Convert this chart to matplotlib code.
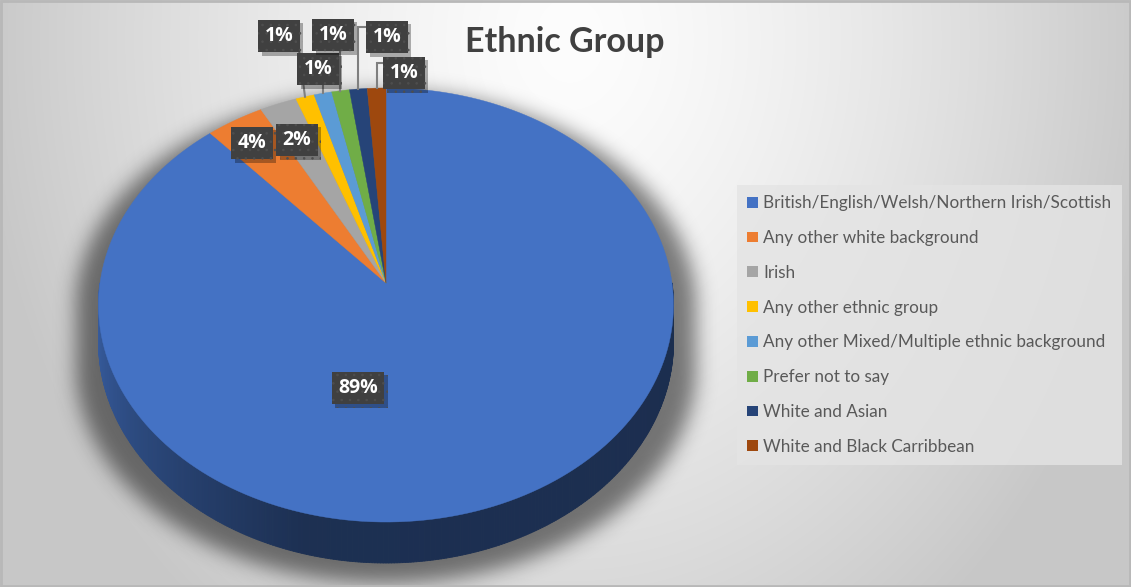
import numpy as np
import matplotlib
matplotlib.use('Agg')
from matplotlib import pyplot as plt
from matplotlib import patheffects as pe
from matplotlib.patches import Polygon, Patch, Rectangle
from matplotlib.collections import PolyCollection
from matplotlib.colors import to_rgb

# data
categories = [
    'British/English/Welsh/Northern Irish/Scottish',
    'Any other white background',
    'Irish',
    'Any other ethnic group',
    'Any other Mixed/Multiple ethnic background',
    'Prefer not to say',
    'White and Asian',
    'White and Black Carribbean',
]
shares = [88.5, 3.6, 2.3, 1.15, 1.1, 1.1, 1.1, 1.15]
colors = ['#4472c4', '#ed7d31', '#a5a5a5', '#ffc000',
          '#5b9bd5', '#70ad47', '#264478', '#9e480e']

# label layout (pixel positions of the data label boxes)
label_pos = [(358, 387), (252, 142), (297, 139), (279, 35),
             (318, 68), (333, 34), (387, 36), (404, 72)]
# leader line style per label
leader = [None, None, None, 'direct', 'down', 'down', 'elbow', 'elbow']

W, H = 1131, 587
CX, CY = 386, 283             # pie centre on screen
A, B, K = 286, 214.8, 0.1014  # radii and perspective factor
DEPTH = 36.8


def project(u, v, z=0.0):
    s = 1.0 / (1.0 + K * v)
    return CX + A * u * s, CY - B * v * s + z * s


def inside(xx, yy, ax_scale=1.0):
    dy = CY - yy
    v = dy / (B - K * dy)
    u = (xx - CX) * (1 + K * v) / (A * ax_scale)
    return u ** 2 + v ** 2 <= 1


def blur(img, sigma):
    r = int(3 * sigma)
    t = np.arange(-r, r + 1)
    k = np.exp(-t ** 2 / (2 * sigma ** 2))
    k /= k.sum()
    img = np.apply_along_axis(lambda m: np.convolve(m, k, mode='same'), 0, img)
    img = np.apply_along_axis(lambda m: np.convolve(m, k, mode='same'), 1, img)
    return img


fig = plt.figure(figsize=(W / 100, H / 100), dpi=100)
ax = fig.add_axes([0, 0, 1, 1])
ax.set_xlim(0, W)
ax.set_ylim(H, 0)
ax.axis('off')

# background gradient
yy, xx = np.mgrid[0:H, 0:W] + 0.5
d = np.sqrt(((xx - 570) / 660) ** 2 + ((yy - 40) / 820) ** 2)
g = (253 - 54 * np.clip(d / 0.9, 0, 1) ** 1.4) / 255
bg = np.dstack([g, g, g])
ax.imshow(bg, extent=(0, W, H, 0), zorder=0, interpolation='bilinear')

# soft shadow under the pie
mask = np.zeros((H, W))
for s in np.arange(4, DEPTH + 26, 3):
    mask = np.maximum(mask, inside(xx, yy - s, 1.08).astype(float))
sh = blur(mask, 10)
shadow = np.zeros((H, W, 4))
shadow[..., 3] = 0.5 * sh
ax.imshow(shadow, extent=(0, W, H, 0), zorder=1, interpolation='bilinear')

# slice angles (start at 12 o'clock, clockwise)
total = sum(shares)
cum = np.concatenate([[0], np.cumsum(shares)])
starts = 90 - 360 * cum[:-1] / total
ends = 90 - 360 * cum[1:] / total

# side wall
seg = np.linspace(-180, 0, 361)
quads, qcols = [], []
for t0, t1 in zip(seg[:-1], seg[1:]):
    tm = (t0 + t1) / 2
    idx = 0
    for i in range(len(shares)):
        lo, hi = ends[i], starts[i]
        if lo <= tm <= hi or lo <= tm + 360 <= hi or lo <= tm - 360 <= hi:
            idx = i
    f = np.interp(tm + 360, [180, 255, 360], [0.85, 0.42, 0.40])
    c = np.array(to_rgb(colors[idx])) * f
    r0, r1 = np.radians(t0), np.radians(t1)
    p0 = project(np.cos(r0), np.sin(r0))
    p1 = project(np.cos(r1), np.sin(r1))
    p2 = project(np.cos(r1), np.sin(r1), DEPTH)
    p3 = project(np.cos(r0), np.sin(r0), DEPTH)
    quads.append([p0, p1, p2, p3])
    qcols.append(c)
ax.add_collection(PolyCollection(quads, facecolors=qcols, edgecolors=qcols,
                                 linewidths=0.6, zorder=2))

# top face
for i in range(len(shares)):
    th = np.radians(np.linspace(starts[i], ends[i], 200))
    px, py = project(np.cos(th), np.sin(th))
    verts = np.column_stack([np.r_[CX, px], np.r_[CY, py]])
    ax.add_patch(Polygon(verts, closed=True, fc=colors[i], ec=colors[i],
                         lw=0.3, zorder=3))

# leader lines
for i in range(len(shares)):
    if leader[i] is None:
        continue
    mid = np.radians((starts[i] + ends[i]) / 2)
    rx, ry = project(np.cos(mid), np.sin(mid))
    lx, ly = label_pos[i]
    if leader[i] == 'direct':
        xs, ys = [lx + 19, rx], [ly + 7, ry]
    elif leader[i] == 'down':
        xs, ys = [rx, rx], [ly + 15, ry]
    else:
        xs, ys = [lx - 19, rx, rx], [ly - 9, ly - 9, ry]
    ax.plot(xs, ys, color='#7f7f7f', lw=1.5, zorder=4, solid_joinstyle='miter')

# data labels
plt.rcParams['hatch.linewidth'] = 0.6
for i, v in enumerate(shares):
    txt = f'{int(v / total * 100 + 0.5)}%'
    lx, ly = label_pos[i]
    t = ax.text(lx, ly + 1, txt, fontsize=14, fontweight='bold', family='Open Sans',
                color='white', ha='center', va='center', zorder=6,
                bbox=dict(boxstyle='square,pad=0.33', fc='#404040', ec='#4e4e4e',
                          lw=0, hatch='..'))
    t.get_bbox_patch().set_path_effects([
        pe.SimplePatchShadow(offset=(2.5, -2.5), shadow_rgbFace='black', alpha=0.3),
        pe.Normal()])

# title
ax.text(565, 42, 'Ethnic Group', fontsize=24.5, fontweight='bold', family='Lato',
        color='#404040', ha='center', va='center', zorder=6)

# legend
handles = [Patch(fc=c, ec='none') for c in colors]
leg = ax.legend(handles, categories, loc='upper left',
                bbox_to_anchor=(737 / W, 1 - 185 / H), bbox_transform=ax.transAxes,
                borderaxespad=0, frameon=True, fancybox=False, facecolor='#e4e4e4',
                edgecolor='none', framealpha=0.8, prop={'family': 'Lato', 'size': 12.3},
                labelcolor='#595959', handlelength=0.6, handleheight=0.6,
                handletextpad=0.35, labelspacing=1.1, borderpad=0.6)
leg.set_zorder(6)

# outer frame
ax.add_patch(Rectangle((0.5, 0.5), W - 1.5, H - 1.5, fill=False, ec='#b8b8b8',
                       lw=2, zorder=7))

fig.savefig('out.png', dpi=100)
